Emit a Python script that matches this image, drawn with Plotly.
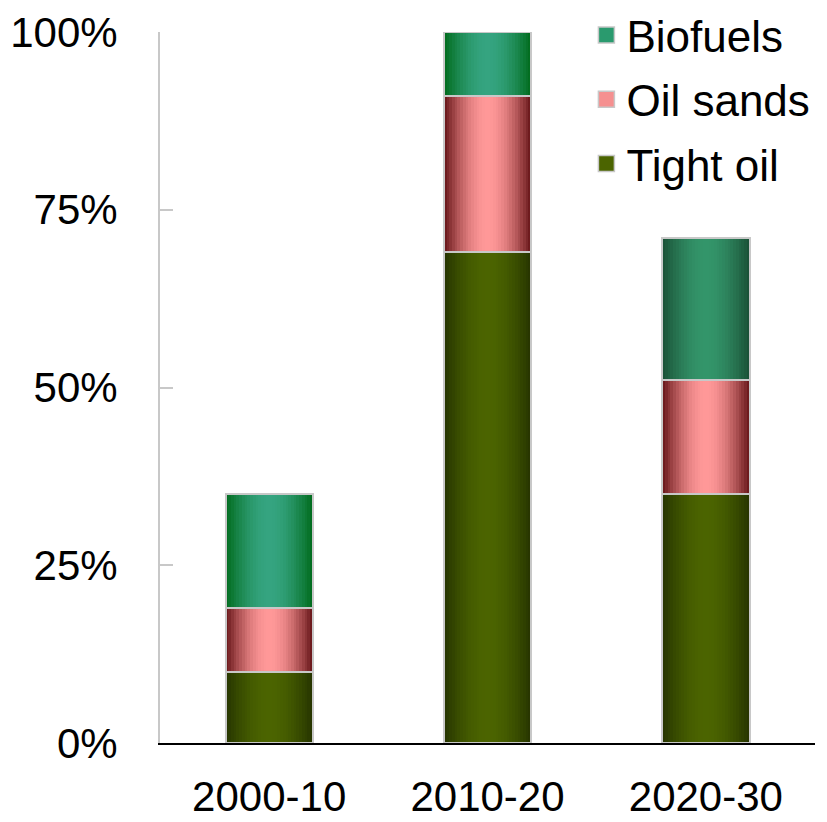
import plotly.graph_objects as go
import math

# ---- data ----
categories = ["2000-10", "2010-20", "2020-30"]
tight_oil = [10, 69, 35]
oil_sands = [9, 22, 16]
biofuels = [16, 9, 20]
y_tickvals = [0, 25, 50, 75, 100]
y_ticktext = ["0%", "25%", "50%", "75%", "100%"]

# ---- styles ----
BAR_W = 0.4
K = 32  # gradient strips per bar
FONT = "Liberation Sans, Arial, sans-serif"
OUTLINE = "#c8c8c8"

# (edge colour, centre colour) per category
styles = {
    "Tight oil": [("#263400", "#4b6400")] * 3,
    "Oil sands": [("#661518", "#ff9898")] * 3,
    "Biofuels": [("#006b1c", "#35a480"), ("#006b1c", "#35a480"), ("#1a5035", "#33956a")],
}
legend_col = {"Tight oil": "#4b6400", "Oil sands": "#f59090", "Biofuels": "#2a9a6e"}


def hex2rgb(h):
    h = h.lstrip("#")
    return [int(h[i:i + 2], 16) for i in (0, 2, 4)]


def mix(a, b, f):
    ca, cb = hex2rgb(a), hex2rgb(b)
    return "rgb(%d,%d,%d)" % tuple(round(x + (y - x) * f) for x, y in zip(ca, cb))


series = [("Tight oil", tight_oil), ("Oil sands", oil_sands), ("Biofuels", biofuels)]
bases = []
acc = [0, 0, 0]
for name, vals in series:
    bases.append(list(acc))
    acc = [a + v for a, v in zip(acc, vals)]

fig = go.Figure()

# legend entries (top-to-bottom order)
for name in ["Biofuels", "Oil sands", "Tight oil"]:
    fig.add_trace(go.Scatter(
        x=[None], y=[None], mode="markers", name=name, legendgroup=name,
        marker=dict(symbol="square", size=22, color=legend_col[name],
                    line=dict(color=OUTLINE, width=1.5)),
        showlegend=True, hoverinfo="skip"))

# gradient strips
for (name, vals), base in zip(series, bases):
    for j in range(K):
        t = (j + 0.5) / K
        f = math.sin(math.pi * t) ** 1.0
        cols = [mix(e, c, f) for e, c in styles[name]]
        fig.add_trace(go.Bar(
            x=categories, y=vals, base=base,
            width=BAR_W / K * 1.15, offset=-BAR_W / 2 + j * BAR_W / K,
            marker=dict(color=cols, line=dict(width=0)),
            showlegend=False, hoverinfo="skip"))

# outlines
for (name, vals), base in zip(series, bases):
    fig.add_trace(go.Bar(
        x=categories, y=vals, base=base, width=BAR_W, offset=-BAR_W / 2,
        marker=dict(color="rgba(0,0,0,0)", line=dict(color=OUTLINE, width=2)),
        showlegend=False, name=name, legendgroup=name))

fig.update_layout(
    width=819, height=814,
    margin=dict(l=152, r=12, t=24, b=79, autoexpand=False),
    paper_bgcolor="white", plot_bgcolor="white",
    barmode="overlay", bargap=0,
    font=dict(family=FONT, size=42, color="black"),
    showlegend=True,
    legend=dict(x=0.651, y=1.045, xanchor="left", yanchor="top",
                traceorder="grouped", tracegroupgap=4,
                font=dict(size=44), bgcolor="rgba(0,0,0,0)"),
    xaxis=dict(type="category", range=[-0.5, 2.5], showline=True,
               linecolor="black", linewidth=1.5, ticks="", showgrid=False,
               automargin=False,
               ticklabelstandoff=16, tickfont=dict(size=42)),
    yaxis=dict(range=[0, 100], tickvals=y_tickvals, ticktext=y_ticktext,
               showline=True, linecolor=OUTLINE, linewidth=2,
               ticks="inside", ticklen=13, tickwidth=2, tickcolor=OUTLINE,
               showgrid=False, zeroline=False, ticklabelstandoff=32,
               automargin=False,
               tickfont=dict(size=42)),
)

fig.write_html("out.html")
